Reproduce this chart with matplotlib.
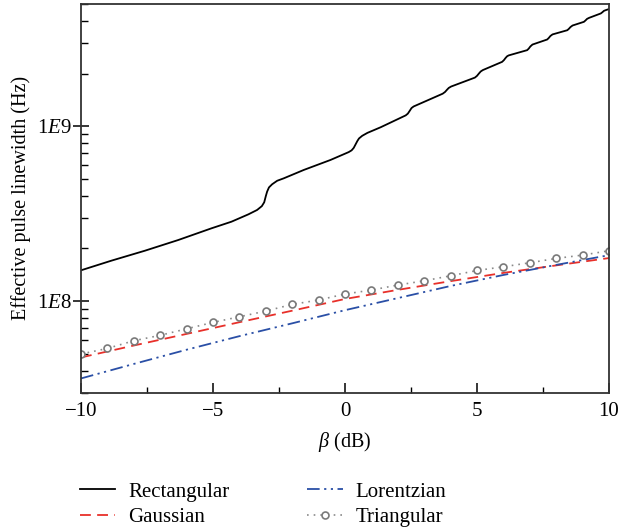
import numpy as np
import matplotlib
matplotlib.use("Agg")
import matplotlib.pyplot as plt
from matplotlib.ticker import FixedLocator, FuncFormatter, LogLocator, NullFormatter

plt.rcParams['font.family'] = ['Liberation Serif', 'DejaVu Serif']
plt.rcParams['mathtext.fontset'] = 'custom'
plt.rcParams['mathtext.rm'] = 'Liberation Serif'
plt.rcParams['mathtext.it'] = 'Liberation Serif:italic'

# rectangular pulse (log10 of Hz)
rect_beta = [-10, -8.85, -7.58, -6.32, -5.06, -4.30, -3.66, -3.33, -3.15, -3.06, -3.0, -2.95,
             -2.88, -2.76, -2.57, -2.32, -1.56, -0.55, 0.14, 0.25, 0.33, 0.40, 0.47, 0.53,
             0.65, 0.85, 1.35, 2.30, 2.38, 2.46, 2.52, 2.60, 3.70, 3.79, 3.86, 3.93, 4.02,
             4.92, 5.0, 5.07, 5.14, 5.22, 5.95, 6.02, 6.08, 6.14, 6.20, 6.90, 6.96, 7.02,
             7.10, 7.66, 7.72, 7.78, 7.86, 8.42, 8.48, 8.54, 8.62, 9.05, 9.11, 9.17, 9.25,
             9.69, 9.75, 9.81, 9.88, 10.0]
rect_log = [8.176, 8.231, 8.288, 8.349, 8.416, 8.454, 8.496, 8.521, 8.543, 8.565, 8.600, 8.626,
            8.650, 8.668, 8.688, 8.702, 8.750, 8.807, 8.852, 8.862, 8.876, 8.896, 8.916, 8.930,
            8.945, 8.962, 8.994, 9.062, 9.072, 9.090, 9.104, 9.113, 9.186, 9.196, 9.208, 9.219, 9.227,
            9.278, 9.288, 9.301, 9.313, 9.321, 9.368, 9.378, 9.390, 9.400, 9.405, 9.435, 9.444, 9.456,
            9.467, 9.496, 9.505, 9.516, 9.525, 9.549, 9.557, 9.567, 9.576, 9.597, 9.605, 9.614, 9.620,
            9.645, 9.652, 9.660, 9.664, 9.670]

gauss_beta = [-10, -8, -6, -4, -2, 0, 2, 4, 6, 8, 10]
gauss_hz = [4.76e7, 5.57e7, 6.49e7, 7.57e7, 8.81e7, 1.028e8, 1.159e8, 1.30e8, 1.449e8, 1.60e8, 1.762e8]

lor_beta = [-10, -8, -6, -4, -2, 0, 2, 4, 6, 8, 10]
lor_hz = [3.61e7, 4.37e7, 5.27e7, 6.30e7, 7.46e7, 8.87e7, 1.04e8, 1.22e8, 1.41e8, 1.61e8, 1.83e8]

tri_beta = [-10, -9, -8, -7, -6, -5, -4, -3, -2, -1, 0, 1, 2, 3, 4, 5, 6, 7, 8, 9, 10]
tri_hz = [4.98e7, 5.36e7, 5.93e7, 6.37e7, 6.94e7, 7.55e7, 8.13e7, 8.77e7, 9.57e7, 1.014e8,
          1.097e8, 1.156e8, 1.235e8, 1.306e8, 1.395e8, 1.496e8, 1.571e8, 1.656e8, 1.754e8,
          1.832e8, 1.940e8]

fig = plt.figure(figsize=(6.2, 5.31), dpi=100)
ax = fig.add_axes([81 / 620, 1 - 392.5 / 531, 528 / 620, 388.5 / 531])

ax.plot(rect_beta, 10 ** np.array(rect_log), color='black', lw=1.3, label='Rectangular')
ax.plot(gauss_beta, gauss_hz, color='#e8302a', lw=1.3, dashes=(6, 3.5), label='Gaussian')
ax.plot(lor_beta, lor_hz, color='#2a4fa6', lw=1.3, dashes=(7, 2.5, 1.2, 2.5, 1.2, 2.5),
        label='Lorentzian')
ax.plot(tri_beta, tri_hz, color='#8a8a8a', lw=1.2, ls=(0, (1, 3)), marker='o', ms=5,
        mfc='white', mec='#7a7a7a', mew=1.2, label='Triangular')

ax.set_yscale('log')
ax.set_xlim(-10, 10)
ax.set_ylim(3.0e7, 5.0e9)

ax.xaxis.set_major_locator(FixedLocator([-10, -5, 0, 5, 10]))
ax.xaxis.set_minor_locator(FixedLocator([-7.5, -2.5, 2.5, 7.5]))
ax.yaxis.set_major_locator(FixedLocator([1e8, 1e9]))
ax.yaxis.set_major_formatter(FuncFormatter(lambda v, p: r'1$\mathit{E}$%d' % round(np.log10(v))))
ax.yaxis.set_minor_locator(LogLocator(base=10, subs=np.arange(2, 10)))
ax.yaxis.set_minor_formatter(NullFormatter())

ax.tick_params(axis='x', which='major', direction='in', length=7, width=1.1, labelsize=15, pad=7)
ax.tick_params(axis='x', which='minor', direction='in', length=4, width=1.0)
ax.tick_params(axis='y', which='major', direction='inout', length=11, width=1.1, labelsize=15, pad=1.5)
ax.tick_params(axis='y', which='minor', direction='in', length=5, width=1.0)
for s in ax.spines.values():
    s.set_linewidth(1.3)
    s.set_color('#333333')

ax.set_xlabel(r'$\mathit{\beta}$ (dB)', fontsize=14.5, labelpad=6)
ax.set_ylabel('Effective pulse linewidth (Hz)', fontsize=14.5, labelpad=4)

h, l = ax.get_legend_handles_labels()
fig.legend(h, l, loc='upper left', bbox_to_anchor=(80 / 620, 1 - 482 / 531), ncol=2,
           frameon=False, fontsize=15, borderpad=0, borderaxespad=0, handlelength=1.7,
           handletextpad=0.6, columnspacing=3.75, labelspacing=0.3)

fig.savefig('out.png', dpi=100)
